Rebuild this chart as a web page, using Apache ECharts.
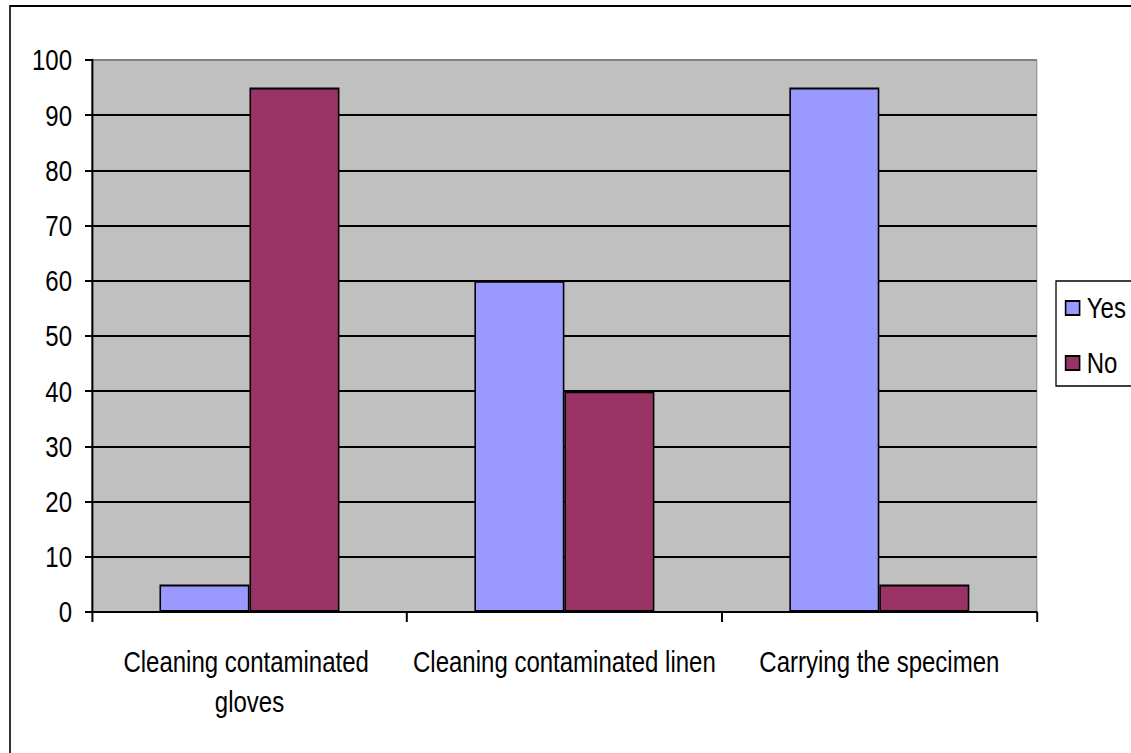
<!DOCTYPE html>
<html>
<head>
<meta charset="utf-8">
<script src="https://cdn.jsdelivr.net/npm/echarts@6/dist/echarts.min.js"></script>
<style>
  html, body { margin: 0; padding: 0; background: #fff; overflow: hidden; }
  #wrap { width: 1131px; height: 753px; overflow: hidden; position: relative; }
  /* The chart is laid out wider and squeezed horizontally to get a narrow typeface */
  #chart { width: 1414px; height: 753px; transform: scaleX(0.8); transform-origin: 0 0; }
</style>
</head>
<body>
<div id="wrap"><div id="chart"></div></div>
<script>
// Survey tasks and the share (%) answering Yes / No
const categories = ['Cleaning contaminated gloves', 'Cleaning contaminated linen', 'Carrying the specimen'];
const yesValues = [5, 60, 95];
const noValues = [95, 40, 5];
const seriesNames = ['Yes', 'No'];
const yTicks = { min: 0, max: 100, step: 10 };

const FONT = "'Liberation Sans', Arial, sans-serif";
const textBase = { color: '#000', fontFamily: FONT, fontSize: 30 };

// Split lines are black, except the top one, which sits on the grey frame
const splitColors = [];
for (let v = yTicks.min; v <= yTicks.max; v += yTicks.step) splitColors.push(v === yTicks.max ? '#808080' : '#000');

const chart = echarts.init(document.getElementById('chart'), null, { renderer: 'svg' });
chart.setOption({
  animation: false,
  backgroundColor: '#fff',
  graphic: [{
    type: 'rect',
    shape: { x: 12.5, y: 6, width: 1600, height: 900 },
    style: { fill: 'none', stroke: '#000', lineWidth: 2 },
    z: -1
  }],
  grid: {
    left: 115, top: 60, right: 118, bottom: 141,
    show: true,
    backgroundColor: '#C0C0C0',
    borderColor: '#808080',
    borderWidth: 1.2,
    containLabel: false
  },
  legend: {
    orient: 'vertical',
    left: 1320, top: 281,
    data: seriesNames,
    itemWidth: 17.5, itemHeight: 14,
    itemGap: 25,
    padding: [12, 30, 8, 11],
    borderColor: '#000', borderWidth: 1.6,
    backgroundColor: '#fff',
    icon: 'rect',
    textStyle: Object.assign({ lineHeight: 29, padding: [0, 0, 0, 4] }, textBase)
  },
  xAxis: {
    type: 'category',
    data: categories,
    boundaryGap: true,
    axisLine: { show: true, lineStyle: { color: '#000', width: 2 } },
    axisTick: { show: true, length: 10, lineStyle: { color: '#000', width: 2.5 } },
    axisLabel: Object.assign({
      interval: 0, margin: 30, width: 388, overflow: 'break', lineHeight: 40, align: 'center'
    }, textBase),
    splitLine: { show: false }
  },
  yAxis: {
    type: 'value',
    min: yTicks.min, max: yTicks.max, interval: yTicks.step,
    axisLine: { show: true, lineStyle: { color: '#000', width: 2.5 } },
    axisTick: { show: true, length: 8.75, lineStyle: { color: '#000', width: 2 } },
    axisLabel: Object.assign({ margin: 25 }, textBase),
    splitLine: { show: true, lineStyle: { color: splitColors, width: 2 } }
  },
  series: [
    {
      name: seriesNames[0], type: 'bar', data: yesValues,
      barWidth: 112.5, barGap: '0%',
      itemStyle: { color: '#9999FF', borderColor: '#000', borderWidth: 2 }
    },
    {
      name: seriesNames[1], type: 'bar', data: noValues,
      barWidth: 112.5, barGap: '0%',
      itemStyle: { color: '#993366', borderColor: '#000', borderWidth: 2 }
    }
  ]
});
</script>
</body>
</html>
